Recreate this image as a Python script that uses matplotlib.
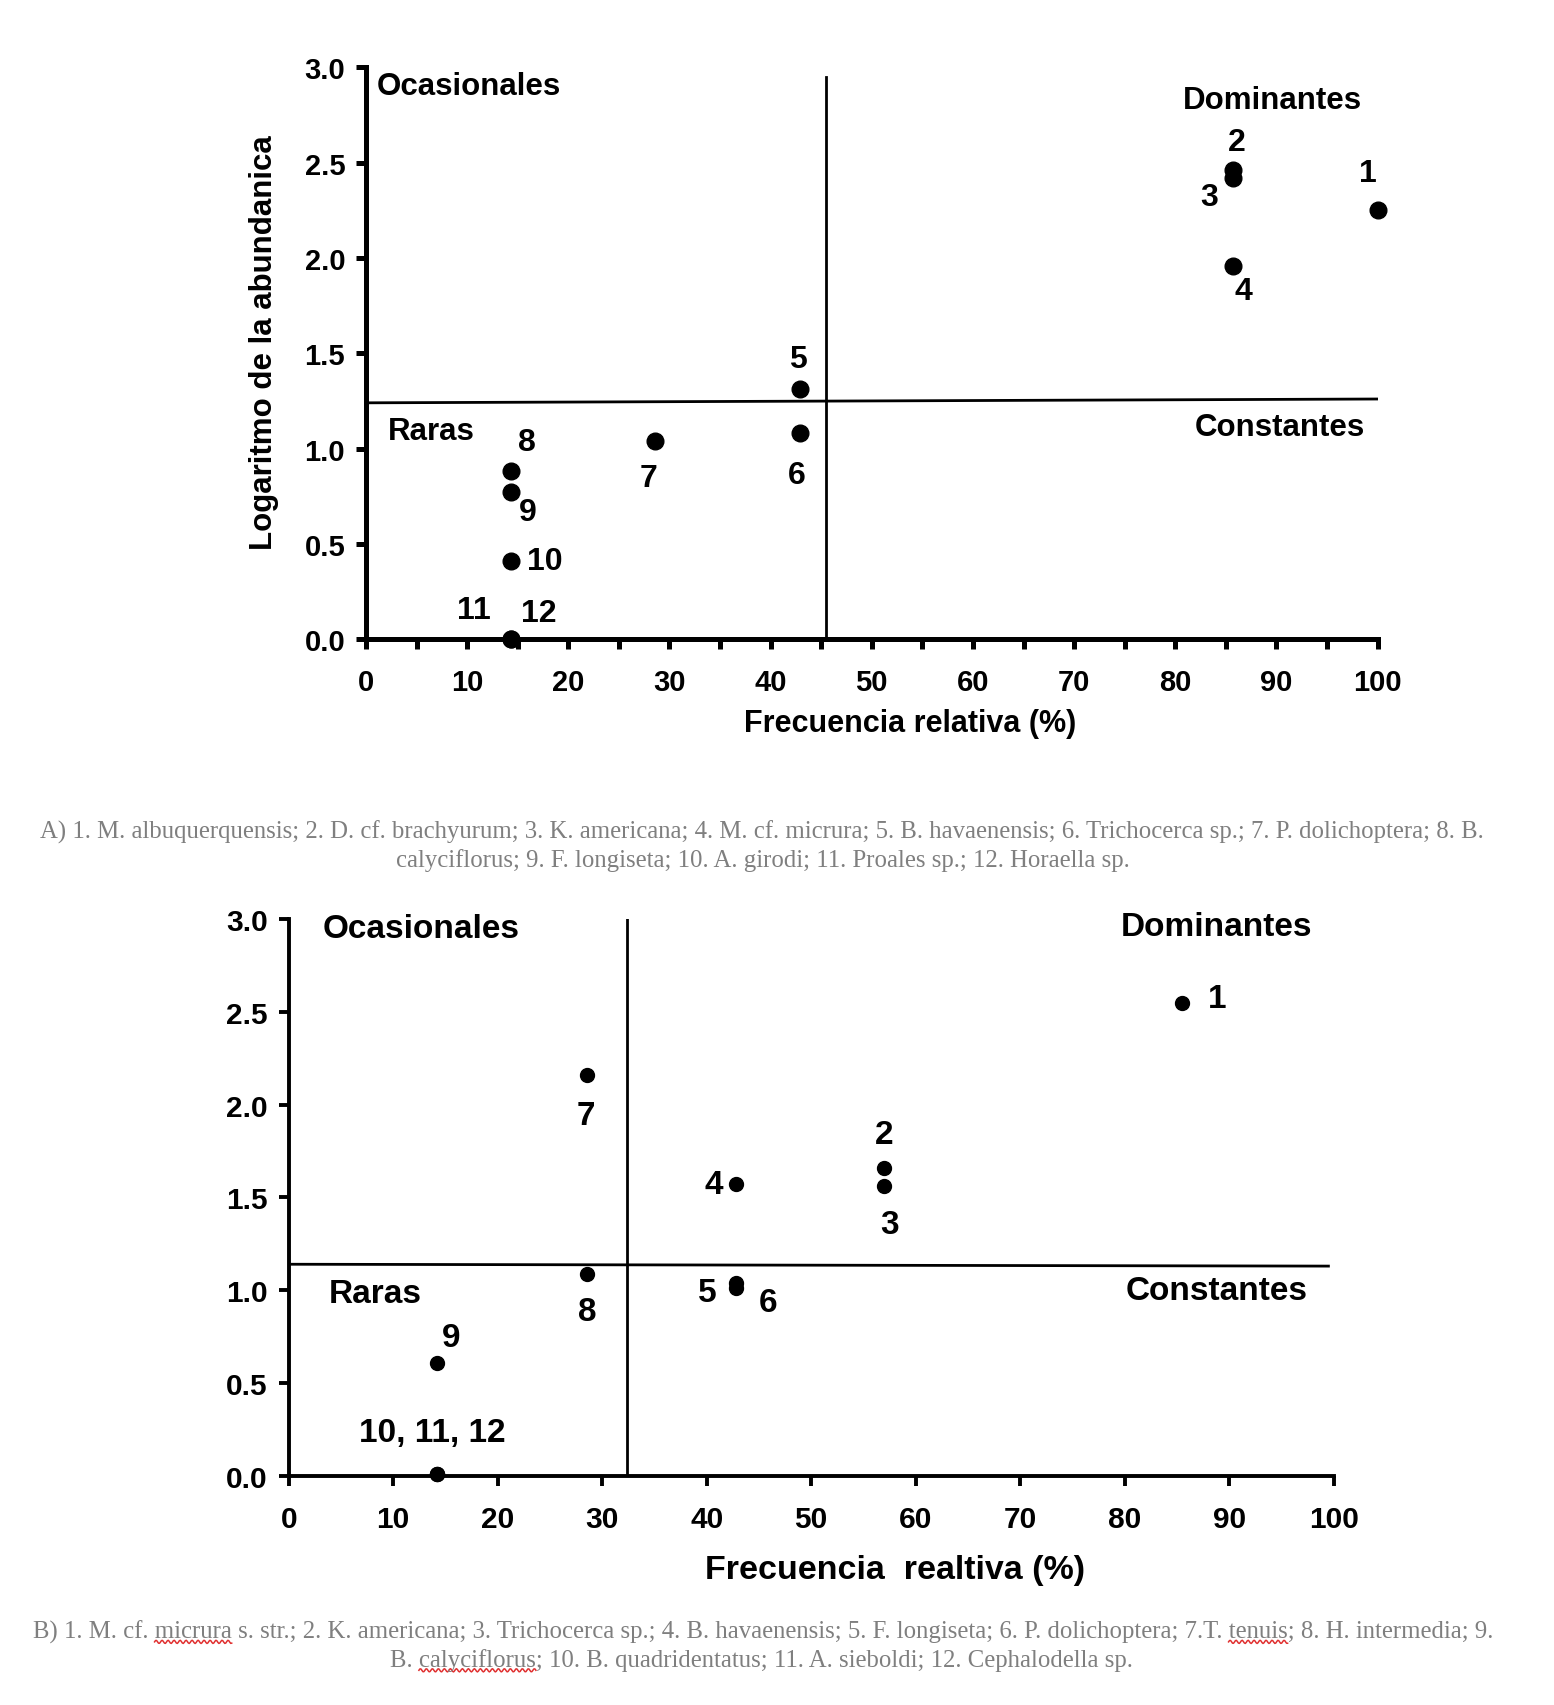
import matplotlib
matplotlib.use("Agg")
import matplotlib.pyplot as plt
import numpy as np

# ---------------- data ----------------
# Panel A
a_ids = ["1", "2", "3", "4", "5", "6", "7", "8", "9", "10", "11", "12"]
a_freq = [100.0, 85.7, 85.7, 85.7, 42.9, 42.9, 28.6, 14.3, 14.3, 14.3, 14.3, 14.3]
a_logab = [2.25, 2.46, 2.42, 1.96, 1.31, 1.08, 1.04, 0.88, 0.77, 0.41, 0.0, 0.0]
a_vline = 45.5
a_hline = 1.25

# Panel B
b_ids = ["1", "2", "3", "4", "5", "6", "7", "8", "9", "10", "11", "12"]
b_freq = [85.5, 57.0, 57.0, 42.8, 42.8, 42.8, 28.5, 28.5, 14.2, 14.2, 14.2, 14.2]
b_logab = [2.55, 1.66, 1.56, 1.57, 1.04, 1.01, 2.16, 1.09, 0.61, 0.01, 0.01, 0.01]
b_vline = 32.4
b_hline = 1.135

x_ticks = list(range(0, 101, 10))
y_ticks = [0.0, 0.5, 1.0, 1.5, 2.0, 2.5, 3.0]
y_ticklabels = ["0.0", "0.5", "1.0", "1.5", "2.0", "2.5", "3.0"]

caption_a = [
    "A) 1. M. albuquerquensis; 2. D. cf. brachyurum; 3. K. americana; 4. M. cf. micrura; 5. B. havaenensis; 6. Trichocerca sp.; 7. P. dolichoptera; 8. B.",
    "calyciflorus; 9. F. longiseta; 10. A. girodi; 11. Proales sp.; 12. Horaella sp.",
]
caption_b = [
    "B) 1. M. cf. micrura s. str.; 2. K. americana; 3. Trichocerca sp.; 4. B. havaenensis; 5. F. longiseta; 6. P. dolichoptera; 7.T. tenuis; 8. H. intermedia; 9.",
    "B. calyciflorus; 10. B. quadridentatus; 11. A. sieboldi; 12. Cephalodella sp.",
]

plt.rcParams['font.family'] = ['Liberation Sans', 'DejaVu Sans']
plt.rcParams['font.weight'] = 'bold'

W, H = 1554, 1706
fig = plt.figure(figsize=(W / 100, H / 100), dpi=100)
fig.patch.set_facecolor('white')


def style_axes(ax, spine_w, tick_fs, minor=False):
    for s in ['top', 'right']:
        ax.spines[s].set_visible(False)
    for s in ['left', 'bottom']:
        ax.spines[s].set_linewidth(spine_w)
    ax.set_xlim(0, 100)
    ax.set_ylim(0, 3.0)
    ax.set_xticks(x_ticks)
    ax.set_xticklabels([str(v) for v in x_ticks])
    ax.set_yticks(y_ticks)
    ax.set_yticklabels(y_ticklabels)
    ax.tick_params(axis='both', direction='out', length=7, width=spine_w,
                   labelsize=tick_fs, pad=8)
    ax.tick_params(axis='x', pad=14)
    if minor:
        ax.set_xticks(list(range(5, 100, 10)), minor=True)
        ax.tick_params(axis='x', which='minor', direction='out', length=7, width=spine_w)
    for lab in ax.get_xticklabels() + ax.get_yticklabels():
        lab.set_fontweight('bold')


# ---------------- Panel A ----------------
axA = fig.add_axes([0.2355, 0.6247, 0.651, 0.3353])
style_axes(axA, 3.6, 21, minor=True)
axA.plot(a_freq, a_logab, 'o', color='black', markersize=12, clip_on=False, zorder=5)
axA.plot([a_vline, a_vline], [0, 2.95], color='black', lw=2)
axA.plot([0, 100], [a_hline - 0.01, a_hline + 0.01], color='black', lw=2)

fsA = 23
a_lab_pos = {
    "1": (99.0, 2.445, 'center'),
    "2": (86.1, 2.607, 'center'),
    "3": (83.3, 2.318, 'center'),
    "4": (86.7, 1.827, 'center'),
    "5": (42.7, 1.468, 'center'),
    "6": (42.6, 0.861, 'center'),
    "7": (27.9, 0.844, 'center'),
    "8": (15.9, 1.035, 'center'),
    "9": (16.0, 0.67, 'center'),
    "10": (15.9, 0.41, 'left'),
    "11": (10.7, 0.156, 'center'),
    "12": (17.1, 0.139, 'center'),
}
for k in a_ids:
    x, y, ha = a_lab_pos[k]
    axA.text(x, y, k, fontsize=fsA, fontweight='bold', ha=ha, va='center')

fsAc = 22.5
axA.text(1.1, 2.90, "Ocasionales", fontsize=fsAc, fontweight='bold', ha='left', va='center')
axA.text(89.6, 2.83, "Dominantes", fontsize=fsAc, fontweight='bold', ha='center', va='center')
axA.text(2.2, 1.09, "Raras", fontsize=fsAc, fontweight='bold', ha='left', va='center')
axA.text(90.3, 1.115, "Constantes", fontsize=fsAc, fontweight='bold', ha='center', va='center')

axA.set_xlabel("Frecuencia relativa (%)", fontsize=22, fontweight='bold')
axA.xaxis.set_label_coords(0.538, -0.12)
axA.set_ylabel("Logaritmo de la abundanica", fontsize=22.5, fontweight='bold')
axA.yaxis.set_label_coords(-0.086, 0.52)

# ---------------- Panel B ----------------
axB = fig.add_axes([0.1858, 0.1344, 0.6724, 0.3262])
style_axes(axB, 2.8, 21.5, minor=False)
axB.plot(b_freq, b_logab, 'o', color='black', markersize=10, clip_on=False, zorder=5)
axB.plot([b_vline, b_vline], [0, 3.0], color='black', lw=2)
axB.plot([0, 99.5], [b_hline + 0.005, b_hline - 0.005], color='black', lw=2)

fsB = 24
b_lab_pos = {
    "1": (88.0, 2.57, 'left'),
    "2": (57.0, 1.84, 'center'),
    "3": (57.5, 1.354, 'center'),
    "4": (41.6, 1.568, 'right'),
    "5": (40.9, 0.99, 'right'),
    "6": (45.9, 0.933, 'center'),
    "7": (28.4, 1.94, 'center'),
    "8": (28.6, 0.885, 'center'),
    "9": (15.5, 0.743, 'center'),
}
for k in b_ids[:9]:
    x, y, ha = b_lab_pos[k]
    axB.text(x, y, k, fontsize=fsB, fontweight='bold', ha=ha, va='center')
axB.text(13.7, 0.232, ", ".join(b_ids[9:]), fontsize=fsB, fontweight='bold', ha='center', va='center')

axB.text(3.2, 2.95, "Ocasionales", fontsize=fsB, fontweight='bold', ha='left', va='center')
axB.text(88.8, 2.96, "Dominantes", fontsize=fsB, fontweight='bold', ha='center', va='center')
axB.text(3.8, 0.98, "Raras", fontsize=fsB, fontweight='bold', ha='left', va='center')
axB.text(88.8, 1.0, "Constantes", fontsize=fsB, fontweight='bold', ha='center', va='center')

axB.set_xlabel("Frecuencia  realtiva (%)", fontsize=24.5, fontweight='bold')
axB.xaxis.set_label_coords(0.58, -0.14)

# ---------------- captions ----------------
cap_kw = dict(fontsize=17.8, color='#7f7f7f', family=['Liberation Serif', 'DejaVu Serif'],
              fontweight='normal', ha='center', va='center')
fig.text(0.49, 1 - 755 / 1548, caption_a[0], **cap_kw)
fig.text(0.491, 1 - 781 / 1548, caption_a[1], **cap_kw)
tb1 = fig.text(0.491, 1 - 1481 / 1548, caption_b[0], **cap_kw)
tb2 = fig.text(0.49, 1 - 1507 / 1548, caption_b[1], **cap_kw)

# red spell-check squiggles under selected words
fig.canvas.draw()
renderer = fig.canvas.get_renderer()


def squiggle(textobj, word):
    s = textobj.get_text()
    i = s.find(word)
    if i < 0:
        return
    bb = textobj.get_window_extent(renderer)
    kw = {k: v for k, v in cap_kw.items() if k not in ('ha', 'va')}
    tmp = fig.text(0, 0, s[:i], **kw)
    w0 = tmp.get_window_extent(renderer).width if s[:i] else 0
    tmp.set_text(s[:i + len(word)])
    w1 = tmp.get_window_extent(renderer).width
    tmp.remove()
    x0 = bb.x0 + w0
    x1 = bb.x0 + w1
    y = bb.y0 + 1
    xs = np.linspace(x0, x1, int((x1 - x0) / 1.0) + 2)
    ys = y + 1.6 * np.sin((xs - x0) / 3.0 * np.pi)
    fig.lines.append(matplotlib.lines.Line2D(xs / W, ys / H, transform=fig.transFigure,
                                             color='#e03030', lw=1.1))


squiggle(tb1, "micrura")
squiggle(tb1, "tenuis")
squiggle(tb2, "calyciflorus")

fig.savefig("out.png", dpi=100, facecolor='white')
